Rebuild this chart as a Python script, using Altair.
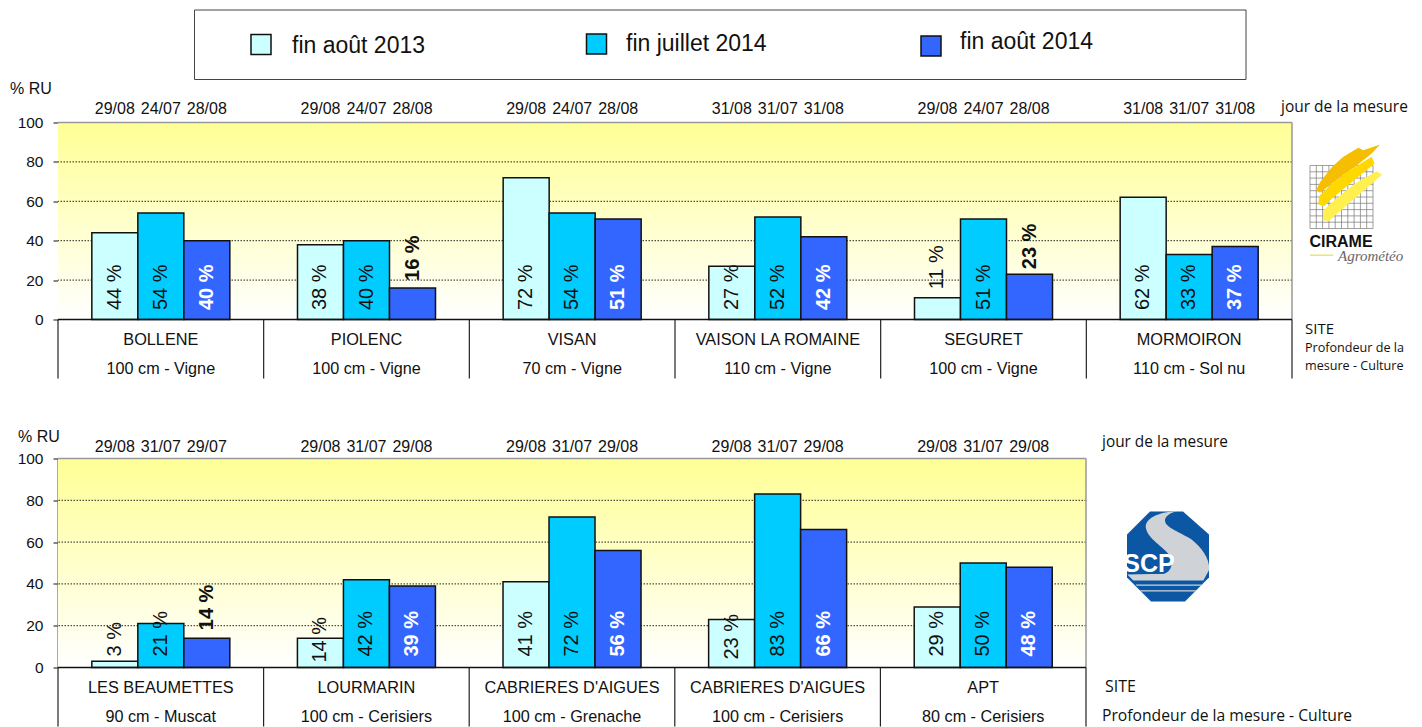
import altair as alt
import pandas as pd

SERIES = ["fin août 2013", "fin juillet 2014", "fin août 2014"]
COLORS = ["#CCFFFF", "#00CCFF", "#3366FF"]

sites_top = ["BOLLENE", "PIOLENC", "VISAN", "VAISON LA ROMAINE", "SEGURET", "MORMOIRON"]
depths_top = ["100 cm - Vigne", "100 cm - Vigne", "70 cm - Vigne", "110 cm - Vigne", "100 cm - Vigne", "110 cm - Sol nu"]
values_top = [[44, 54, 40], [38, 40, 16], [72, 54, 51], [27, 52, 42], [11, 51, 23], [62, 33, 37]]
dates_top = [["29/08", "24/07", "28/08"], ["29/08", "24/07", "28/08"], ["29/08", "24/07", "28/08"],
             ["31/08", "31/07", "31/08"], ["29/08", "24/07", "28/08"], ["31/08", "31/07", "31/08"]]

sites_bot = ["LES BEAUMETTES", "LOURMARIN", "CABRIERES D'AIGUES", "CABRIERES D'AIGUES", "APT"]
depths_bot = ["90 cm - Muscat", "100 cm - Cerisiers", "100 cm - Grenache", "100 cm - Cerisiers", "80 cm - Cerisiers"]
values_bot = [[3, 21, 14], [14, 42, 39], [41, 72, 56], [23, 83, 66], [29, 50, 48]]
dates_bot = [["29/08", "31/07", "29/07"], ["29/08", "31/07", "29/08"], ["29/08", "31/07", "29/08"],
             ["29/08", "31/07", "29/08"], ["29/08", "31/07", "29/08"]]

TICKS = [0, 20, 40, 60, 80, 100]
GRID = [20, 40, 60, 80]
FONT = "Liberation Sans"
CAL = "Open Sans"
INK = "#111111"
ONE = alt.Data(values=[{"a": 1}])
PAD = 0.329


def note(text, x, y, size=15.5, font=FONT, color=INK, align="left", weight="normal", style="normal", baseline="middle"):
    return alt.Chart(ONE).mark_text(text=text, fontSize=size, font=font, color=color, align=align,
                                    fontWeight=weight, fontStyle=style, baseline=baseline).encode(
        x=alt.value(x), y=alt.value(y))


def shape(path, x, y, fill=None, stroke=None, sw=1, scale=1 / 3):
    kw = dict(shape=path, size=(2 * scale) ** 2, opacity=1)
    if fill:
        kw.update(filled=True, fill=fill, strokeWidth=0)
    else:
        kw.update(filled=False, stroke=stroke, strokeWidth=sw)
    return alt.Chart(ONE).mark_point(**kw).encode(x=alt.value(x), y=alt.value(y))


def panel(sites, depths, values, dates, width, height, date_y, spine, label_dx, special):
    rows = []
    keys = []
    for i, (s, d) in enumerate(zip(sites, depths)):
        k = f"{i}"
        keys.append(k)
        for j in range(3):
            v = values[i][j]
            anchor, dx = 0, label_dx
            if (s, d, j) in special:
                mode, dx = special[(s, d, j)]
                anchor = v if mode == "out" else 0
            bold = j == 2
            col = "white" if (bold and anchor == 0) else INK
            rows.append(dict(key=k, site=s, depth=d, series=j, value=v, date=dates[i][j],
                             label=f"{v} %", anchor=anchor, col=col,
                             group=f"{int(bold)}|{col}|{dx}"))
    df = pd.DataFrame(rows)

    xscale = alt.Scale(paddingInner=PAD, paddingOuter=PAD / 2)
    xs = alt.X("key:N", sort=keys, axis=None, title=None, scale=xscale)
    xo = alt.XOffset("series:N", scale=alt.Scale(domain=[0, 1, 2], paddingInner=0, paddingOuter=0))
    ys = alt.Scale(domain=[0, 100], nice=False)
    yaxis = alt.Axis(values=TICKS, title=None, grid=False, domainColor=spine[0], domainWidth=spine[1],
                     tickColor="#111111", tickSize=5, labelPadding=10, labelFontSize=15.5,
                     labelColor=INK, labelFont=FONT)

    base = alt.Chart(df)
    grad = alt.Gradient(gradient="linear", x1=0, x2=0, y1=0, y2=1,
                        stops=[alt.GradientStop(color="#FFFF99", offset=0.03),
                               alt.GradientStop(color="#FFFFFF", offset=1)])
    bg = alt.Chart(ONE).mark_rect(color=grad).encode(
        x=alt.value(0), x2=alt.value(width), y=alt.value(0), y2=alt.value(height))
    grid = alt.Chart(pd.DataFrame({"g": GRID})).mark_rule(color="#222222", strokeDash=[1.5, 1.5], strokeWidth=1).encode(
        y=alt.Y("g:Q", scale=ys, axis=yaxis))
    top = alt.Chart(ONE).mark_rule(color="#999999", strokeWidth=1.5).encode(
        x=alt.value(0), x2=alt.value(width), y=alt.value(0))
    right = alt.Chart(ONE).mark_rule(color="#999999", strokeWidth=1.5).encode(
        x=alt.value(width), y=alt.value(0), y2=alt.value(height))
    bars = base.mark_bar(stroke="#111111", strokeWidth=1.5).encode(
        x=xs, xOffset=xo,
        y=alt.Y("value:Q", scale=ys, axis=yaxis),
        fill=alt.Fill("series:N", scale=alt.Scale(domain=[0, 1, 2], range=COLORS), legend=None))
    baseline = alt.Chart(ONE).mark_rule(color="#111111", strokeWidth=1.5).encode(
        x=alt.value(0), x2=alt.value(width), y=alt.value(height))

    layers = [bg, grid, top, right, bars, baseline]

    for g in df["group"].unique():
        bold_s, col, dx = g.split("|")
        layers.append(
            base.transform_filter(alt.datum.group == g).mark_text(
                angle=270, align="left", baseline="middle", fontSize=20, color=col, dx=float(dx),
                fontWeight="bold" if bold_s == "1" else "normal", font=FONT).encode(
                x=xs, xOffset=xo,
                y=alt.Y("anchor:Q", scale=ys, axis=yaxis),
                text="label:N"))

    layers.append(base.mark_text(fontSize=16, color=INK, font=FONT, baseline="middle").encode(
        x=xs, xOffset=xo, y=alt.value(date_y), text="date:N"))
    first = df[df.series == 0]
    layers.append(alt.Chart(first).mark_text(fontSize=16.3, color=INK, font=FONT, baseline="middle").encode(
        x=xs, y=alt.value(height + 20), text="site:N"))
    layers.append(alt.Chart(first).mark_text(fontSize=16.2, color=INK, font=FONT, baseline="middle").encode(
        x=xs, y=alt.value(height + 49), text="depth:N"))
    # separators sit at the start of each category step, not at the start of the bars
    step = width / len(keys)
    layers.append(alt.Chart(first).mark_rule(color="#222222", strokeWidth=1.2, xOffset=-step * PAD / 2).encode(
        x=alt.X("key:N", sort=keys, axis=None, bandPosition=0, scale=xscale),
        y=alt.value(height), y2=alt.value(height + 59)))
    layers.append(alt.Chart(ONE).mark_rule(color="#222222", strokeWidth=1.2).encode(
        x=alt.value(width), y=alt.value(height), y2=alt.value(height + 59)))
    return layers


# ---- top panel
TW, TH = 1234, 197
OX, OY = 58, 123
top_layers = panel(sites_top, depths_top, values_top, dates_top, TW, TH, -14, ("#111111", 1), 9.5, {
    ("PIOLENC", "100 cm - Vigne", 2): ("out", 7),
    ("SEGURET", "100 cm - Vigne", 0): ("out", 8.5),
    ("SEGURET", "100 cm - Vigne", 2): ("out", 5),
})


def ax(v):
    return v - OX


def ay(v):
    return v - OY


# legend box
top_layers.append(alt.Chart(ONE).mark_rect(fill="white", stroke="#444444", strokeWidth=1).encode(
    x=alt.value(ax(194.5)), x2=alt.value(ax(1246)), y=alt.value(ay(10.5)), y2=alt.value(ay(80))))
for name, col, sx, sy, tx, ty in [(SERIES[0], COLORS[0], 261, 45, 292, 46),
                                  (SERIES[1], COLORS[1], 596.5, 44.5, 626, 44),
                                  (SERIES[2], COLORS[2], 931, 46.5, 960, 42)]:
    top_layers.append(alt.Chart(ONE).mark_square(size=400, color=col, stroke="#111111", strokeWidth=1.5, opacity=1).encode(
        x=alt.value(ax(sx)), y=alt.value(ay(sy))))
    top_layers.append(note(name, ax(tx), ay(ty), size=23))

top_layers.append(note("% RU", ax(10), ay(89), size=16))
top_layers.append(note("jour de la mesure", ax(1281), ay(107), size=15.5, font=CAL))
top_layers.append(note("SITE", ax(1305), ay(329), size=15, font=CAL))
top_layers.append(note("Profondeur de la", ax(1305), ay(348), size=12.6, font=CAL))
top_layers.append(note("mesure - Culture", ax(1305), ay(366), size=12.6, font=CAL))

# CIRAME logo, path coordinates in a 3x local grid
gx = [30 + 18.9 * i for i in range(11)]
gy = [78 + 18.9 * i for i in range(11)]
grid_path = " ".join(f"M{x:.1f},78 L{x:.1f},267" for x in gx) + " " + " ".join(f"M30,{y:.1f} L219,{y:.1f}" for y in gy)
LX, LY = ax(1300), ay(140)
top_layers.append(shape(grid_path, LX, LY, stroke="#777777", sw=0.7))
top_layers.append(shape("M48,152 L62,125 L98,80 L130,52 L175,25 L190,32 L240,15 L215,42 L165,82 L122,112 L85,140 L60,160 Z", LX, LY, fill="#F5BE00"))
top_layers.append(shape("M55,195 L57,170 L92,135 L140,98 L215,52 L224,72 L175,112 L135,145 L102,172 L72,200 Z", LX, LY, fill="#FFD800"))
top_layers.append(shape("M68,240 L70,212 L108,178 L165,132 L230,95 L246,106 L195,150 L150,188 L108,226 L85,246 Z", LX, LY, fill="#FFF050"))
top_layers.append(note("CIRAME", ax(1341), ay(242), size=16, weight="bold", align="center", color="#111111"))
top_layers.append(shape("M30,345 L100,345 L100,349 L30,349 Z", LX, LY, fill="#E8DC70"))
top_layers.append(note("Agrométéo", ax(1338), ay(256), size=15, font="Liberation Serif", style="italic", color="#666666"))

top_chart = alt.layer(*top_layers).properties(width=TW, height=TH)

# ---- bottom panel
BW, BH = 1028, 209
OY2 = 459
bot_layers = panel(sites_bot, depths_bot, values_bot, dates_bot, BW, BH, -11.5, ("#555555", 2), 11, {
    ("LES BEAUMETTES", "90 cm - Muscat", 2): ("out", 8),
    ("LOURMARIN", "100 cm - Cerisiers", 0): ("in", 5),
    ("CABRIERES D'AIGUES", "100 cm - Cerisiers", 0): ("in", 8),
})


def by(v):
    return v - OY2


bot_layers.append(note("% RU", ax(18), by(437), size=16))
bot_layers.append(note("jour de la mesure", ax(1102), by(442), size=15.4, font=CAL))
bot_layers.append(note("SITE", ax(1105), by(687), size=16, font=CAL))
bot_layers.append(note("Profondeur de la mesure - Culture", ax(1102), by(716), size=15.7, font=CAL))

# SCP logo, path coordinates in a 3x local grid
SX, SY = ax(1120), by(505)
bot_layers.append(shape("M21,90 L90,21 L189,21 L267,90 L267,219 L195,291 L93,291 L21,219 Z", SX, SY, fill="#0B57A4"))
bot_layers.append(shape("M170,20 C115,22 72,42 78,72 C85,105 130,125 150,155 C155,175 150,200 130,208 L22,210 L40,228 L250,228 L268,195 C268,160 245,130 215,105 C185,85 135,70 135,48 C135,35 150,25 170,20 Z", SX, SY, fill="#CFD2D6"))
bot_layers.append(shape("M47,240 L245,240 L242,244 L50,244 Z", SX, SY, fill="#CFD2D6"))
bot_layers.append(shape("M60,257 L232,257 L229,261 L63,261 Z", SX, SY, fill="#CFD2D6"))
bot_layers.append(shape("M21,150 L130,150 C150,150 158,165 155,180 C152,198 140,208 125,208 L21,208 Z", SX, SY, fill="#0B57A4"))
bot_layers.append(note("SCP", ax(1149), by(564), size=25, weight="bold", color="white", align="center"))

bot_chart = alt.layer(*bot_layers).properties(width=BW, height=BH)

chart = alt.vconcat(top_chart, bot_chart, spacing=139, bounds="flush").properties(
    padding={"left": 2, "top": 1.5, "right": 0, "bottom": 0}
).configure_view(stroke=None)

chart.save("out.html", embed_options={"renderer": "svg", "actions": False})
